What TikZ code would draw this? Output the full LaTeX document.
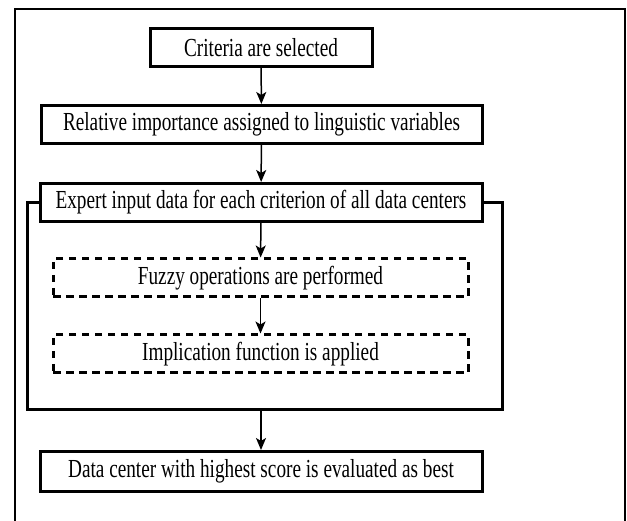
\documentclass[tikz,border=0pt]{standalone}
\usepackage{fontspec}
\setmainfont{Liberation Serif}[FakeStretch=0.74]
\usetikzlibrary{arrows.meta}
\begin{document}
\begin{tikzpicture}[x=1pt,y=-1pt,
  solidbox/.style={draw, line width=3pt, minimum height=38pt, inner sep=0pt, font=\fontsize{26}{28}\selectfont},
  dashbox/.style={draw, line width=3pt, dash pattern=on 7.5pt off 5.5pt, minimum width=415pt, minimum height=38pt, inner sep=0pt, font=\fontsize{26}{28}\selectfont},
  flow/.style={line width=1.5pt, -{Stealth[length=12pt,width=10pt,inset=3pt]}},
  frame/.style={line width=2.4pt}]
\useasboundingbox (0,0) rectangle (627,521);
\fill[white] (0,0) rectangle (627,521);
\node[solidbox, minimum width=222pt] (c1) at (261,47.5) {Criteria are selected};
\node[solidbox, minimum width=441pt] (c2) at (261.5,124.5) {Relative importance assigned to linguistic variables};
\node[solidbox, minimum width=442pt] (c3) at (261,202.5) {Expert input data for each criterion of all data centers};
\node[dashbox] (f1) at (260.5,278) {Fuzzy operations are performed};
\node[dashbox] (f2) at (260.5,354) {Implication function is applied};
\node[solidbox, minimum width=442pt, minimum height=40pt] (c4) at (261,471.5) {Data center with highest score is evaluated as best};
\coordinate (bl) at (27,410);
\coordinate (br) at (502,410);
\coordinate (ol) at (15,521);
\coordinate (or) at (625,521);
\draw[frame] (ol) -- (15,9) -- (625,9) -- (or);
\draw[line width=3pt] (c3.west) -| (bl) -- (br) |- (c3.east);
\draw[flow] (c1) -- (c2);
\draw[flow] (c2) -- (c3);
\draw[flow] (c3) -- (f1);
\draw[flow] (f1) -- (f2);
\draw[flow] (c3.south |- bl) -- (c4);
\end{tikzpicture}
\end{document}
